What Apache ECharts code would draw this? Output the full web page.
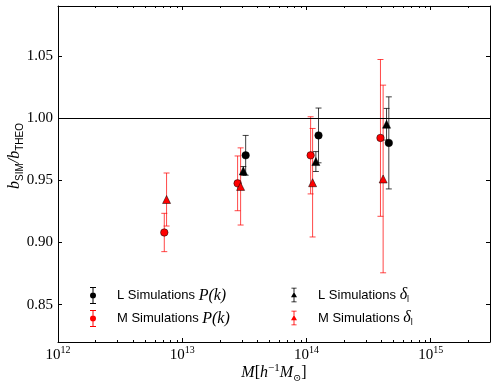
<!DOCTYPE html>
<html>
<head>
<meta charset="utf-8">
<title>b_SIM / b_THEO</title>
<script src="https://cdn.jsdelivr.net/npm/echarts@6/dist/echarts.min.js"></script>
<style>
  html, body { margin: 0; padding: 0; background: #fff; }
  #chart { width: 498px; height: 387px; }
</style>
</head>
<body>
<div id="chart"></div>
<script>
// L simulations, P(k)
const lPkMass = [3.24e13, 1.25e14, 4.6e14];
const lPkBias = [0.970, 0.986, 0.980];
const lPkErr = [0.016, 0.022, 0.037];
// L simulations, delta_l
const lDeltaMass = [3.1e13, 1.19e14, 4.41e14];
const lDeltaBias = [0.9575, 0.965, 0.995];
const lDeltaErr = [0.0035, 0.008, 0.0127];
// M simulations, P(k)
const mPkMass = [7.17e12, 2.79e13, 1.08e14, 3.94e14];
const mPkBias = [0.908, 0.9475, 0.970, 0.984];
const mPkErr = [0.0154, 0.022, 0.031, 0.063];
// M simulations, delta_l
const mDeltaMass = [7.48e12, 2.95e13, 1.12e14, 4.14e14];
const mDeltaBias = [0.9345, 0.945, 0.948, 0.951];
const mDeltaErr = [0.0213, 0.031, 0.0436, 0.0754];

const refLine = 1.0;
const xMin = 1e12;
const xMax = 3e15;
const yMin = 0.82;
const yMax = 1.09;
const minorTicks = [
  2e12, 3e12, 4e12, 5e12, 6e12, 7e12, 8e12, 9e12,
  2e13, 3e13, 4e13, 5e13, 6e13, 7e13, 8e13, 9e13,
  2e14, 3e14, 4e14, 5e14, 6e14, 7e14, 8e14, 9e14,
  2e15
];

const serif = "'Liberation Serif', 'DejaVu Serif', serif";
const sans = "'Liberation Sans', 'DejaVu Sans', sans-serif";

// legend icons: error bar with a marker
const circleIcon = 'path://M1,0H7V1H1Z M3.5,0H4.5V17H3.5Z M1,16H7V17H1Z M7,8.5A3,3 0 1,1 1,8.5A3,3 0 1,1 7,8.5Z';
const triIcon = 'path://M1,0H7V1H1Z M3.5,0H4.5V17H3.5Z M1,16H7V17H1Z M4,5L7.5,11L0.5,11Z';

const legendText = {
  'L Simulations P(k)': '{sp|}{n|L Simulations }{m|P(k)}',
  'M Simulations P(k)': '{sp|}{n|M Simulations }{m|P(k)}',
  'L Simulations δl': '{sp|}{n|L Simulations }{m|δ}{s|l}',
  'M Simulations δl': '{sp|}{n|M Simulations }{m|δ}{s|l}'
};

function points(mass, bias) {
  return mass.map((m, i) => [m, bias[i]]);
}

function errRows(mass, bias, err) {
  return mass.map((m, i) => [m, bias[i] - err[i], bias[i] + err[i]]);
}

function errorBars(name, rows, color) {
  return {
    type: 'custom',
    name: name,
    data: rows,
    encode: { x: 0, y: [1, 2] },
    silent: true,
    z: 3,
    renderItem: function (params, api) {
      const x = api.value(0);
      const lo = api.coord([x, api.value(1)]);
      const hi = api.coord([x, api.value(2)]);
      const cap = 3;
      const st = () => ({ stroke: color, lineWidth: 1 });
      return {
        type: 'group',
        children: [
          { type: 'line', shape: { x1: lo[0], y1: lo[1], x2: hi[0], y2: hi[1] }, style: st() },
          { type: 'line', shape: { x1: lo[0] - cap, y1: lo[1], x2: lo[0] + cap, y2: lo[1] }, style: st() },
          { type: 'line', shape: { x1: hi[0] - cap, y1: hi[1], x2: hi[0] + cap, y2: hi[1] }, style: st() }
        ]
      };
    }
  };
}

function markers(name, data, symbol, color, size) {
  return {
    type: 'scatter',
    name: name,
    data: data,
    symbol: symbol,
    symbolSize: size,
    z: 5,
    itemStyle: { color: color, borderColor: '#000', borderWidth: 0.5, opacity: 1 }
  };
}

const legendRich = {
  sp: { width: 16 },
  n: { fontFamily: sans, fontSize: 13, color: '#000', lineHeight: 18 },
  m: { fontFamily: serif, fontStyle: 'italic', fontSize: 16, color: '#000', lineHeight: 18 },
  s: { fontFamily: sans, fontSize: 9, color: '#000', verticalAlign: 'bottom', lineHeight: 12 }
};

const blackBar = 'rgba(0,0,0,0.75)';
const redBar = 'rgba(255,0,0,0.72)';

const chart = echarts.init(document.getElementById('chart'));

const option = {
  animation: false,
  backgroundColor: '#fff',
  grid: { left: 58, right: 8, top: 6, bottom: 45, outerBoundsMode: 'none', containLabel: false },
  legend: [
    {
      left: 85, top: 282, orient: 'vertical',
      itemWidth: 6, itemHeight: 17, itemGap: 6,
      itemStyle: { borderWidth: 0 },
      selectedMode: false,
      data: [
        { name: 'L Simulations P(k)', icon: circleIcon },
        { name: 'M Simulations P(k)', icon: circleIcon }
      ],
      formatter: (name) => legendText[name],
      textStyle: { rich: legendRich }
    },
    {
      left: 286, top: 282, orient: 'vertical',
      itemWidth: 6, itemHeight: 17, itemGap: 6,
      itemStyle: { borderWidth: 0 },
      selectedMode: false,
      data: [
        { name: 'L Simulations δl', icon: triIcon },
        { name: 'M Simulations δl', icon: triIcon }
      ],
      formatter: (name) => legendText[name],
      textStyle: { rich: legendRich }
    }
  ],
  xAxis: [
    {
      type: 'log', logBase: 10, min: xMin, max: xMax, position: 'bottom',
      axisLine: { lineStyle: { color: '#000', width: 1 } },
      axisTick: { inside: true, length: 4, lineStyle: { color: '#000' } },
      splitLine: { show: false },
      axisLabel: {
        margin: 3,
        showMaxLabel: false,
        formatter: function (v) {
          const e = Math.round(Math.log10(v));
          if (Math.abs(Math.log10(v) - e) > 1e-6) return '';
          return '{b|10}{e|' + e + '}';
        },
        rich: {
          b: { fontFamily: serif, fontSize: 15, color: '#000', lineHeight: 20 },
          e: { fontFamily: serif, fontSize: 10, color: '#000', verticalAlign: 'top', lineHeight: 14 }
        }
      },
      name: '{i|M}{r|[}{i|h}{p|−1}{i|M}{q|⊙}{r|]}',
      nameLocation: 'middle',
      nameGap: 21,
      nameMoveOverlap: false,
      nameTextStyle: {
        rich: {
          i: { fontFamily: serif, fontStyle: 'italic', fontSize: 16, color: '#000', lineHeight: 20 },
          r: { fontFamily: serif, fontSize: 16, color: '#000', lineHeight: 20 },
          p: { fontFamily: serif, fontSize: 11, color: '#000', verticalAlign: 'top', lineHeight: 14 },
          q: { fontFamily: serif, fontSize: 10, color: '#000', verticalAlign: 'bottom', lineHeight: 14 }
        }
      }
    },
    {
      type: 'log', logBase: 10, min: xMin, max: xMax, position: 'top',
      axisLine: { lineStyle: { color: '#000', width: 1 } },
      axisTick: { inside: true, length: 4, lineStyle: { color: '#000' } },
      axisLabel: { show: false },
      splitLine: { show: false }
    }
  ],
  yAxis: [
    {
      type: 'value', min: yMin, max: yMax, splitNumber: 5, position: 'left',
      axisLine: { show: true, lineStyle: { color: '#000', width: 1 } },
      axisTick: { show: true, inside: true, length: 4, lineStyle: { color: '#000' } },
      splitLine: { show: false },
      axisLabel: {
        showMinLabel: false, showMaxLabel: false, margin: 5,
        fontFamily: serif, fontSize: 15, color: '#000',
        formatter: (v) => v.toFixed(2)
      },
      name: '{i|b}{s|SIM}{r|/}{i|b}{s|THEO}',
      nameLocation: 'middle',
      nameRotate: 90,
      nameGap: 33,
      nameMoveOverlap: false,
      nameTextStyle: {
        padding: [0, 0, 0, 36],
        rich: {
          i: { fontFamily: serif, fontStyle: 'italic', fontSize: 16, color: '#000', lineHeight: 20 },
          r: { fontFamily: serif, fontStyle: 'italic', fontSize: 16, color: '#000', lineHeight: 20 },
          s: { fontFamily: sans, fontSize: 10, color: '#000', verticalAlign: 'bottom', lineHeight: 14 }
        }
      }
    },
    {
      type: 'value', min: yMin, max: yMax, splitNumber: 5, position: 'right',
      axisLine: { show: true, lineStyle: { color: '#000', width: 1 } },
      axisTick: { show: true, inside: true, length: 4, lineStyle: { color: '#000' } },
      axisLabel: { show: false },
      splitLine: { show: false }
    }
  ],
  series: [
    {
      type: 'custom',
      name: 'minor ticks',
      data: minorTicks.map((v) => [v, yMin]),
      encode: { x: 0, y: 1 },
      silent: true,
      z: 1,
      renderItem: function (params, api) {
        const x = api.value(0);
        const b = api.coord([x, yMin]);
        const t = api.coord([x, yMax]);
        const px = Math.round(b[0]) + 0.5;
        return {
          type: 'group',
          children: [
            { type: 'line', shape: { x1: px, y1: b[1], x2: px, y2: b[1] - 2 }, style: { stroke: '#000', lineWidth: 1 } },
            { type: 'line', shape: { x1: px, y1: t[1], x2: px, y2: t[1] + 2 }, style: { stroke: '#000', lineWidth: 1 } }
          ]
        };
      },
      markLine: {
        silent: true,
        symbol: 'none',
        label: { show: false },
        lineStyle: { color: '#000', width: 1, type: 'solid' },
        data: [{ yAxis: refLine }]
      }
    },
    errorBars('L Pk err', errRows(lPkMass, lPkBias, lPkErr), blackBar),
    errorBars('L delta err', errRows(lDeltaMass, lDeltaBias, lDeltaErr), blackBar),
    errorBars('M Pk err', errRows(mPkMass, mPkBias, mPkErr), redBar),
    errorBars('M delta err', errRows(mDeltaMass, mDeltaBias, mDeltaErr), redBar),
    markers('L Simulations P(k)', points(lPkMass, lPkBias), 'circle', '#000', 7.5),
    markers('L Simulations δl', points(lDeltaMass, lDeltaBias), 'triangle', '#000', 8),
    markers('M Simulations P(k)', points(mPkMass, mPkBias), 'circle', '#ff0000', 7.5),
    markers('M Simulations δl', points(mDeltaMass, mDeltaBias), 'triangle', '#ff0000', 8)
  ]
};

chart.setOption(option);
</script>
</body>
</html>
